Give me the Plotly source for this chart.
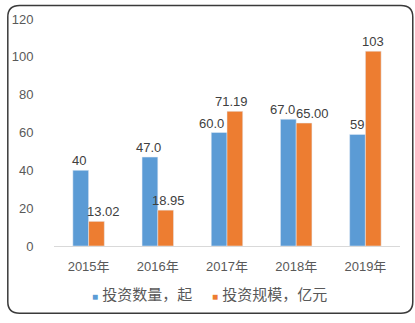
import plotly.graph_objects as go

years = ["2015年", "2016年", "2017年", "2018年", "2019年"]
count_vals = [40, 47, 60, 67, 59]
count_labels = ["40", "47.0", "60.0", "67.0", "59"]
scale_vals = [13.02, 18.95, 71.19, 65.00, 103]
scale_labels = ["13.02", "18.95", "71.19", "65.00", "103"]
count_name = "投资数量，起"
scale_name = "投资规模，亿元"

# label nudges (pixels) mimicking the reference's label placement
count_nudge = [-2, -1, -8, -6, 0]
scale_nudge = [7, 3, -4, 8, 0]

BLUE, ORANGE = "#5B9BD5", "#ED7D31"
W, H = 415, 323
ML, MR, MT, MB = 48, 15, 15, 72
pw, ph = W - ML - MR, H - MT - MB

def px(x):
    return (x - ML) / pw

def py(y):
    return (H - MB - y) / ph

font_family = "Liberation Sans, Noto Sans CJK SC, sans-serif"
lab_font = dict(family=font_family, size=13, color="#404040")

fig = go.Figure()
fig.add_trace(go.Bar(x=years, y=count_vals, name=count_name,
                     marker_color=BLUE, showlegend=False))
fig.add_trace(go.Bar(x=years, y=scale_vals, name=scale_name,
                     marker_color=ORANGE, showlegend=False))

# legend entries: small square glyph inside the name, symbol hidden
for nm, col, lw in [(count_name, BLUE, 75), (scale_name, ORANGE, 125)]:
    fig.add_trace(go.Scatter(
        x=[None], y=[None], mode="markers",
        marker=dict(color="rgba(0,0,0,0)", size=1),
        name=f"<span style='color:{col};font-size:10px'>■</span> {nm}",
        showlegend=True, legendwidth=lw,
    ))

BAR_HALF = 8  # half of bar width in px (group offset)
for i, yr in enumerate(years):
    fig.add_annotation(x=yr, y=count_vals[i], text=count_labels[i], showarrow=False,
                       xref="x", yref="y", yanchor="bottom",
                       xshift=-BAR_HALF + count_nudge[i], yshift=0, font=lab_font)
    fig.add_annotation(x=yr, y=scale_vals[i], text=scale_labels[i], showarrow=False,
                       xref="x", yref="y", yanchor="bottom",
                       xshift=BAR_HALF + scale_nudge[i], yshift=0, font=lab_font)

# rounded border
x0, y0, x1, y1, r = 1, 1, 413, 321, 12
path = (
    f"M {px(x0 + r)},{py(y0)} L {px(x1 - r)},{py(y0)} "
    f"Q {px(x1)},{py(y0)} {px(x1)},{py(y0 + r)} "
    f"L {px(x1)},{py(y1 - r)} Q {px(x1)},{py(y1)} {px(x1 - r)},{py(y1)} "
    f"L {px(x0 + r)},{py(y1)} Q {px(x0)},{py(y1)} {px(x0)},{py(y1 - r)} "
    f"L {px(x0)},{py(y0 + r)} Q {px(x0)},{py(y0)} {px(x0 + r)},{py(y0)} Z"
)
fig.add_shape(type="path", path=path, xref="paper", yref="paper",
              line=dict(color="#3a3a3a", width=1.5), layer="above")

fig.update_layout(
    width=W, height=H,
    margin=dict(l=ML, r=MR, t=MT, b=MB),
    paper_bgcolor="white", plot_bgcolor="white",
    barmode="group", bargap=0.545, bargroupgap=0,
    font=dict(family=font_family, size=12, color="#595959"),
    showlegend=True,
    legend=dict(orientation="h", x=px(46), xanchor="left", y=py(301), yanchor="middle",
                font=dict(family=font_family, size=15, color="#595959"),
                itemwidth=30, tracegroupgap=0, bgcolor="rgba(0,0,0,0)"),
)
fig.update_xaxes(showline=True, linecolor="#d9d9d9", linewidth=1, showgrid=False,
                 ticks="outside", ticklen=8, tickcolor="rgba(0,0,0,0)",
                 tickfont=dict(family=font_family, size=13, color="#595959"))
fig.update_yaxes(range=[0, 120], dtick=20, showgrid=False, zeroline=False, showline=False,
                 ticks="outside", ticklen=17, tickcolor="rgba(0,0,0,0)",
                 tickfont=dict(family=font_family, size=13, color="#595959"))

fig.write_html("out.html")
